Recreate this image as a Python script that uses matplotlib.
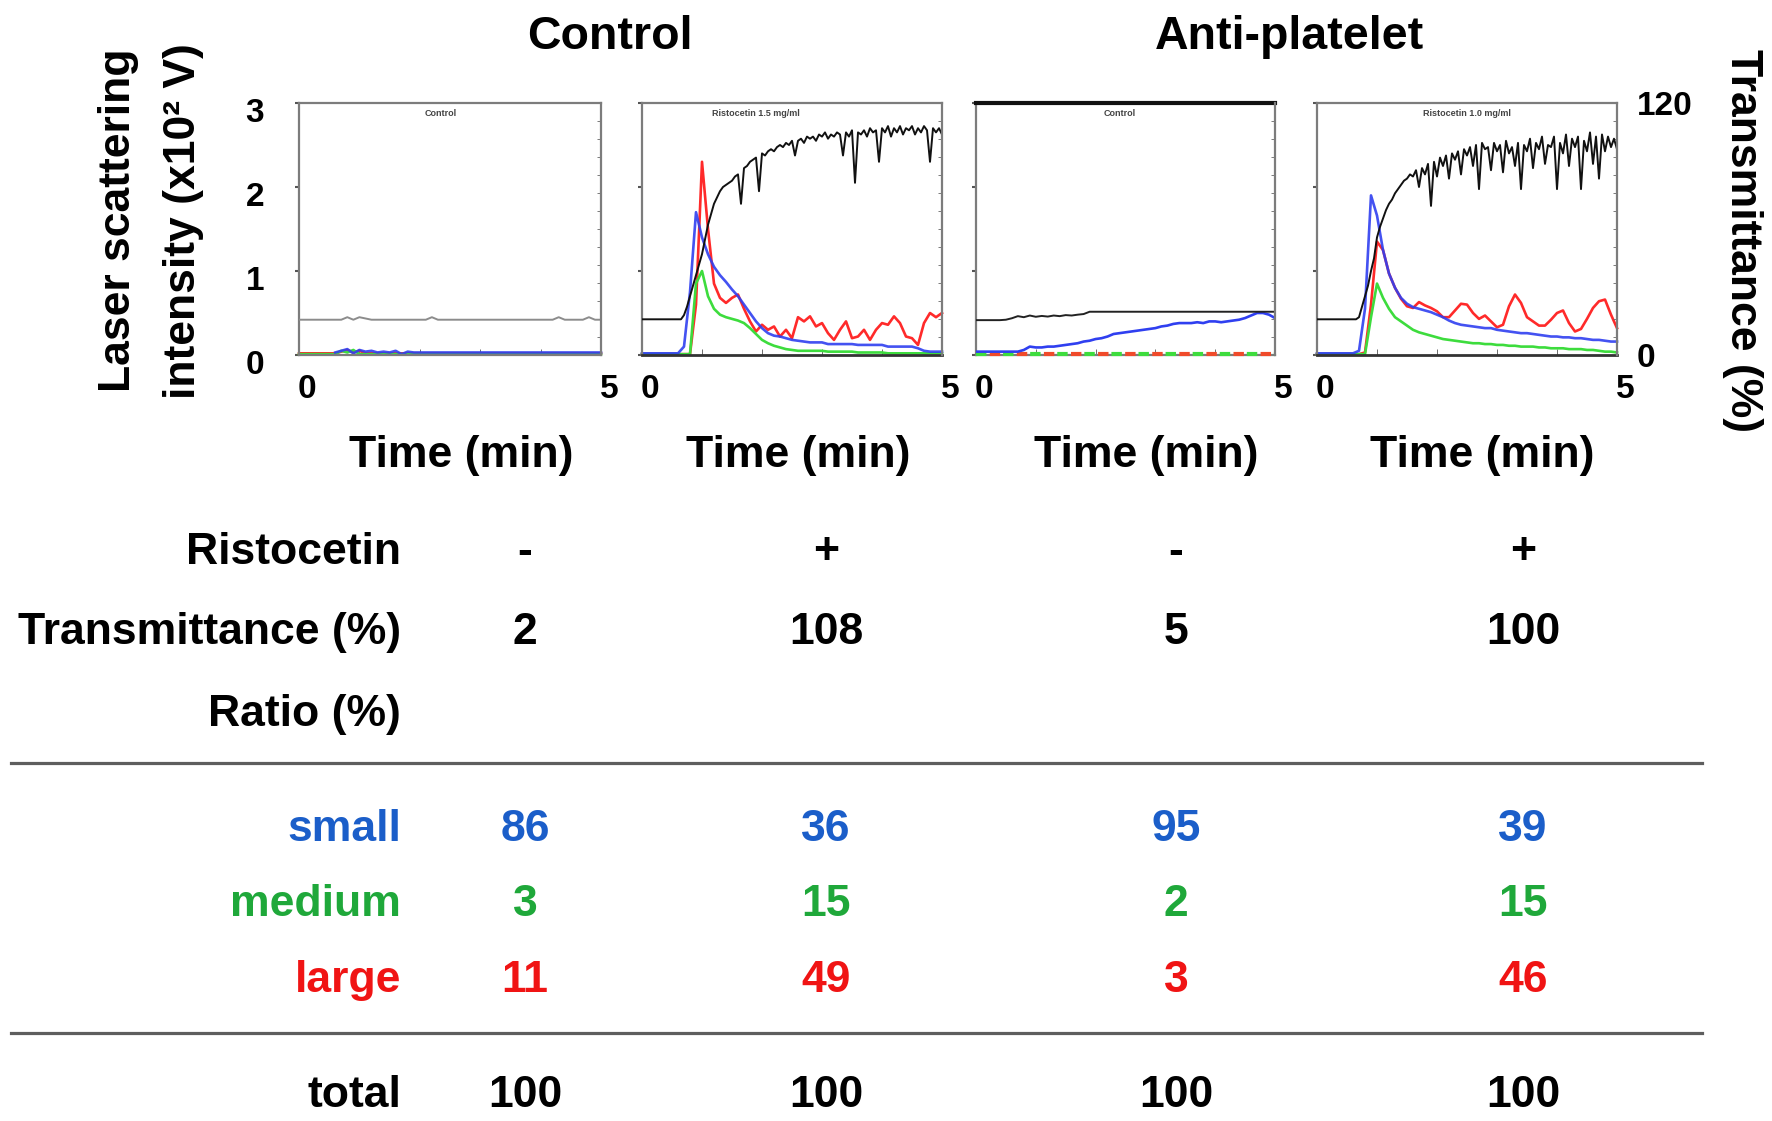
import numpy as np
import matplotlib
matplotlib.use("Agg")
import matplotlib.pyplot as plt
from matplotlib.lines import Line2D
from matplotlib.ticker import FixedLocator, MultipleLocator
from matplotlib.transforms import ScaledTranslation

plt.rcParams['font.family'] = ['Liberation Sans', 'DejaVu Sans']
plt.rcParams['font.weight'] = 'bold'

nan = np.nan

# ---------------- data ----------------
# time grids (min): scattering traces every 0.1 min, transmittance every 0.05 min
t_scatter = np.linspace(0, 5, 51)
t_fine = np.linspace(0, 5, 101)

group_titles = ["Control", "Anti-platelet"]
panel_titles = ["Control", "Ristocetin 1.5 mg/ml", "Control", "Ristocetin 1.0 mg/ml"]

# Panel 1 : Control, no ristocetin  (scattering x10^2 V, transmittance %)
p1_trans = [16.8, 16.8, 16.8, 16.8, 16.8, 16.8, 16.8, 16.8, 18.0, 16.8,
            18.0, 17.4, 16.8, 16.8, 16.8, 16.8, 16.8, 16.8, 16.8, 16.8,
            16.8, 16.8, 18.0, 16.8, 16.8, 16.8, 16.8, 16.8, 16.8, 16.8,
            16.8, 16.8, 16.8, 16.8, 16.8, 16.8, 16.8, 16.8, 16.8, 16.8,
            16.8, 16.8, 16.8, 18.0, 16.8, 16.8, 16.8, 16.8, 18.0, 16.8,
            16.8]
p1_small = [nan, nan, nan, nan, nan, nan, 0.03, 0.05, 0.07, 0.02,
            0.06, 0.04, 0.05, 0.03, 0.04, 0.03, 0.05, 0.01, 0.04, 0.03,
            0.03] + [0.03] * 30
p1_medium = [0.01] * 7 + [0.05, 0.03, 0.06] + [0.01] * 41
p1_large = [0.02] * 7 + [0.04, 0.06, 0.03, 0.05] + [0.02] * 40

# Panel 2 : Control + ristocetin
p2_small = [0.02] * 7 + [0.10, 0.75, 1.70, 1.40, 1.20, 1.05, 0.95, 0.87, 0.78,
                         0.70, 0.60, 0.50, 0.40, 0.32, 0.26, 0.23, 0.22, 0.20, 0.18,
                         0.17, 0.16, 0.15, 0.15, 0.15, 0.13, 0.13, 0.13, 0.13, 0.13,
                         0.12, 0.12, 0.12, 0.12, 0.12, 0.10, 0.10, 0.10, 0.10, 0.10,
                         0.08, 0.05, 0.04, 0.04, 0.04]
p2_medium = [0.01] * 9 + [0.85, 1.00, 0.70, 0.55, 0.48, 0.45, 0.43, 0.41, 0.38, 0.32,
                          0.25, 0.18, 0.14, 0.11, 0.09, 0.07, 0.06, 0.05, 0.05, 0.05,
                          0.05, 0.05, 0.04, 0.04, 0.04, 0.04, 0.04, 0.03, 0.03, 0.03,
                          0.03, 0.03, 0.02, 0.02, 0.02, 0.02, 0.02, 0.02, 0.02, 0.02,
                          0.02, 0.02]
p2_large = [0.01] * 9 + [0.60, 2.30, 1.50, 0.85, 0.68, 0.62, 0.68, 0.72, 0.55, 0.40,
                         0.28, 0.36, 0.30, 0.34, 0.22, 0.30, 0.20, 0.45, 0.40, 0.46,
                         0.34, 0.38, 0.26, 0.18, 0.30, 0.40, 0.20, 0.22, 0.30, 0.18,
                         0.30, 0.38, 0.36, 0.46, 0.38, 0.22, 0.20, 0.12, 0.38, 0.50,
                         0.45, 0.50]
p2_trans = [17] * 14 + [19, 23, 28, 33, 38, 43, 48, 55, 62, 67,
                        72, 75, 78, 80, 81, 82, 83, 85, 86, 72,
                        89, 90, 92, 93, 94, 78, 96, 95, 97, 98,
                        97, 99, 100, 99, 101, 100, 102, 95, 102, 103,
                        101, 104, 103, 104, 102, 105, 104, 106, 103, 105,
                        104, 106, 105, 95, 106, 104, 107, 82, 106, 105,
                        107, 104, 108, 106, 107, 92, 108, 106, 109, 104,
                        108, 106, 109, 105, 108, 107, 109, 105, 108, 106,
                        109, 107, 92, 108, 106, 108, 105]

# Panel 3 : Anti-platelet, no ristocetin
p3_trans = [16.6] * 5 + [16.8, 17.5, 18.5, 18.0, 18.8, 18.2, 18.6, 18.3, 18.8, 18.5,
                         19.0, 18.8, 19.2, 19.5] + [20.6] * 32
p3_small = [0.04] * 8 + [0.06, 0.10, 0.09, 0.09, 0.10, 0.10, 0.11, 0.12, 0.13, 0.14,
                         0.16, 0.17, 0.19, 0.20, 0.22, 0.25, 0.26, 0.27, 0.28, 0.29,
                         0.30, 0.31, 0.32, 0.34, 0.35, 0.37, 0.38, 0.38, 0.38, 0.39,
                         0.38, 0.40, 0.40, 0.39, 0.40, 0.41, 0.42, 0.44, 0.47, 0.50,
                         0.50, 0.48, 0.44]
p3_medium = [0.01] * 51
p3_large = [0.01] * 51

# Panel 4 : Anti-platelet + ristocetin
p4_small = [0.02] * 7 + [0.05, 0.55, 1.90, 1.66, 1.25, 0.97, 0.80, 0.68, 0.61,
                         0.57, 0.55, 0.53, 0.51, 0.48, 0.45, 0.41, 0.38, 0.36, 0.35,
                         0.34, 0.33, 0.32, 0.32, 0.30, 0.29, 0.28, 0.27, 0.26, 0.26,
                         0.25, 0.24, 0.23, 0.22, 0.22, 0.21, 0.21, 0.20, 0.20, 0.19,
                         0.18, 0.18, 0.17, 0.16, 0.16]
p4_medium = [0.01] * 9 + [0.45, 0.85, 0.68, 0.55, 0.45, 0.40, 0.35, 0.30, 0.27, 0.25,
                          0.23, 0.21, 0.19, 0.18, 0.17, 0.16, 0.15, 0.14, 0.14, 0.13,
                          0.13, 0.12, 0.12, 0.11, 0.11, 0.10, 0.10, 0.10, 0.09, 0.09,
                          0.08, 0.08, 0.08, 0.07, 0.07, 0.07, 0.06, 0.06, 0.05, 0.04,
                          0.04, 0.03]
p4_large = [0.01] * 8 + [0.03, 0.60, 1.35, 1.25, 0.97, 0.80, 0.67, 0.58, 0.56, 0.63,
                         0.59, 0.56, 0.52, 0.45, 0.45, 0.53, 0.61, 0.60, 0.50, 0.43,
                         0.47, 0.40, 0.33, 0.36, 0.58, 0.72, 0.62, 0.45, 0.40, 0.35,
                         0.35, 0.42, 0.50, 0.53, 0.38, 0.28, 0.31, 0.43, 0.56, 0.64,
                         0.66, 0.48, 0.32]
p4_trans = [17] * 14 + [18, 23, 28, 33, 40, 46, 56, 61, 65, 69,
                        72, 74, 77, 79, 81, 83, 84, 86, 85, 88,
                        80, 89, 86, 91, 71, 92, 85, 94, 90, 95,
                        84, 96, 93, 97, 86, 98, 95, 99, 90, 100,
                        79, 101, 98, 99, 88, 101, 97, 100, 87, 102,
                        96, 99, 90, 101, 79, 100, 97, 103, 89, 101,
                        98, 104, 91, 100, 99, 104, 79, 101, 96, 105,
                        90, 103, 99, 104, 79, 102, 97, 106, 91, 104,
                        84, 105, 97, 104, 99, 103, 98]

# Table values
row_labels = ["Ristocetin", "Transmittance (%)", "Ratio (%)", "small", "medium", "large", "total"]
ristocetin = ["-", "+", "-", "+"]
transmittance = [2, 108, 5, 100]
ratio_small = [86, 36, 95, 39]
ratio_medium = [3, 15, 2, 15]
ratio_large = [11, 49, 3, 46]
ratio_total = [100, 100, 100, 100]

# ---------------- figure ----------------
W, H, DPI = 1772, 1121, 100
fig = plt.figure(figsize=(W / DPI, H / DPI), dpi=DPI)
fig.patch.set_facecolor('white')


def fx(px):
    return px / W


def fy(py):
    return 1 - py / H


C_BLUE, C_GREEN, C_RED = '#2f3ff0', '#3ddc3d', '#ff2a2a'
T_BLUE, T_GREEN, T_RED = '#1b5ec9', '#1fa83a', '#f01414'
SPINE = '#7c7c7c'

panel_px = [(299, 601), (642, 942), (976, 1275), (1317, 1617)]
top_px, bot_px = 103, 355

panels = [
    dict(small=p1_small, medium=p1_medium, large=p1_large, trans=p1_trans, tt=t_scatter,
         black='#8c8c8c', ls='-', tx=0.47),
    dict(small=p2_small, medium=p2_medium, large=p2_large, trans=p2_trans, tt=t_fine,
         black='#111111', ls='-', tx=0.38),
    dict(small=p3_small, medium=p3_medium, large=p3_large, trans=p3_trans, tt=t_scatter,
         black='#222222', ls='--', tx=0.48),
    dict(small=p4_small, medium=p4_medium, large=p4_large, trans=p4_trans, tt=t_fine,
         black='#111111', ls='-', tx=0.5),
]

down = ScaledTranslation(0, -5 / 72, fig.dpi_scale_trans)
right = ScaledTranslation(6 / 72, 0, fig.dpi_scale_trans)

for i, (p, (l, r)) in enumerate(zip(panels, panel_px)):
    ax = fig.add_axes([fx(l), fy(bot_px), (r - l) / W, (bot_px - top_px) / H])
    ax.set_xlim(0, 5)
    ax.set_ylim(0, 3)
    if p['ls'] == '--':
        ax.plot(t_scatter, p['medium'], color=C_GREEN, lw=3.0, ls=(0, (2.5, 4)),
                clip_on=False, zorder=4)
        ax.plot(t_scatter, p['large'], color='#f04a2a', lw=3.0, ls=(3.2, (2.5, 4)),
                clip_on=False, zorder=4)
        ax.plot(t_scatter, p['small'], color=C_BLUE, lw=1.9, zorder=5)
    else:
        ax.plot(t_scatter, p['large'], color=C_RED, lw=1.9, clip_on=False)
        ax.plot(t_scatter, p['medium'], color=C_GREEN, lw=1.9, clip_on=False)
        ax.plot(t_scatter, p['small'], color=C_BLUE, lw=1.9, clip_on=False, alpha=0.9)

    ax.set_xticks([0, 5])
    ax.set_xticklabels(['0', '5'])
    ax.xaxis.set_minor_locator(FixedLocator([1, 2, 3, 4]))
    ax.set_yticks([0, 1, 2, 3])
    ax.set_yticklabels(['0', '1', '2', '3'])
    ax.tick_params(axis='x', which='major', direction='in', length=0, labelsize=24, pad=14)
    ax.tick_params(axis='x', which='minor', direction='in', length=4, color='#555555')
    ax.tick_params(axis='y', which='major', direction='out', length=3, width=1.5,
                   color='#555555', labelsize=24, pad=22, labelleft=(i == 0))
    for lab in ax.get_yticklabels():
        lab.set_transform(lab.get_transform() + down)
    for lab in ax.get_xticklabels():
        lab.set_transform(lab.get_transform() + right)
    for s in ['left', 'top', 'bottom']:
        ax.spines[s].set_color(SPINE)
        ax.spines[s].set_linewidth(1.6)
    ax.spines['right'].set_visible(False)
    if i in (1, 3):
        ax.spines['bottom'].set_color('#333333')
        ax.spines['bottom'].set_linewidth(2.0)
    if i == 2:
        ax.spines['top'].set_color('#111111')
        ax.spines['top'].set_linewidth(3.0)

    tw = ax.twinx()
    tw.set_ylim(0, 120)
    tw.plot(p['tt'], p['trans'], color=p['black'], lw=1.4)
    tw.set_yticks([0, 120])
    tw.set_yticklabels(['0', '120'])
    tw.yaxis.set_minor_locator(MultipleLocator(120 / 14))
    tw.tick_params(axis='y', which='major', direction='in', length=0, labelsize=24, pad=14,
                   labelright=(i == 3))
    tw.tick_params(axis='y', which='minor', direction='in', length=3, color='#666666')
    for s in ['left', 'top', 'bottom']:
        tw.spines[s].set_visible(False)
    tw.spines['right'].set_color(SPINE)
    tw.spines['right'].set_linewidth(1.6)

    ax.text(p['tx'], 0.975, panel_titles[i], transform=ax.transAxes, ha='center', va='top',
            fontsize=6.5, color='#444444', fontweight='bold')

# x-axis titles under each panel
for cx in [461, 798, 1146, 1482]:
    fig.text(fx(cx), fy(467), "Time (min)", ha='center', va='baseline', fontsize=32)

# group titles
fig.text(fx(610), fy(49), group_titles[0], ha='center', va='baseline', fontsize=33.5)
fig.text(fx(1289), fy(49), group_titles[1], ha='center', va='baseline', fontsize=33.5)

# y-axis titles
fig.text(fx(130), fy(220), "Laser scattering", rotation=90, rotation_mode='anchor',
         ha='center', va='baseline', fontsize=32)
fig.text(fx(195), fy(221), "intensity (x10\u00b2 V)", rotation=90, rotation_mode='anchor',
         ha='center', va='baseline', fontsize=32)
fig.text(fx(1731), fy(241), "Transmittance (%)", rotation=270, rotation_mode='anchor',
         ha='center', va='baseline', fontsize=32)

# ---------------- table ----------------
label_x = 401
col_x = [525, 826, 1176, 1523]
rows = [
    (row_labels[0], ristocetin, 564, 'black'),
    (row_labels[1], transmittance, 644, 'black'),
    (row_labels[2], None, 726, 'black'),
    (row_labels[3], ratio_small, 841, T_BLUE),
    (row_labels[4], ratio_medium, 916, T_GREEN),
    (row_labels[5], ratio_large, 992, T_RED),
    (row_labels[6], ratio_total, 1107, 'black'),
]
for label, vals, yb, col in rows:
    fig.text(fx(label_x), fy(yb), label, ha='right', va='baseline', fontsize=32, color=col)
    if vals is not None:
        for cx, v in zip(col_x, vals):
            fig.text(fx(cx), fy(yb), str(v), ha='center', va='baseline', fontsize=32, color=col)

for yl in [763, 1033]:
    fig.add_artist(Line2D([fx(11), fx(1702)], [fy(yl), fy(yl)], transform=fig.transFigure,
                          color='#5e5e5e', lw=2.3))

fig.savefig("out.png", dpi=DPI, facecolor='white')
